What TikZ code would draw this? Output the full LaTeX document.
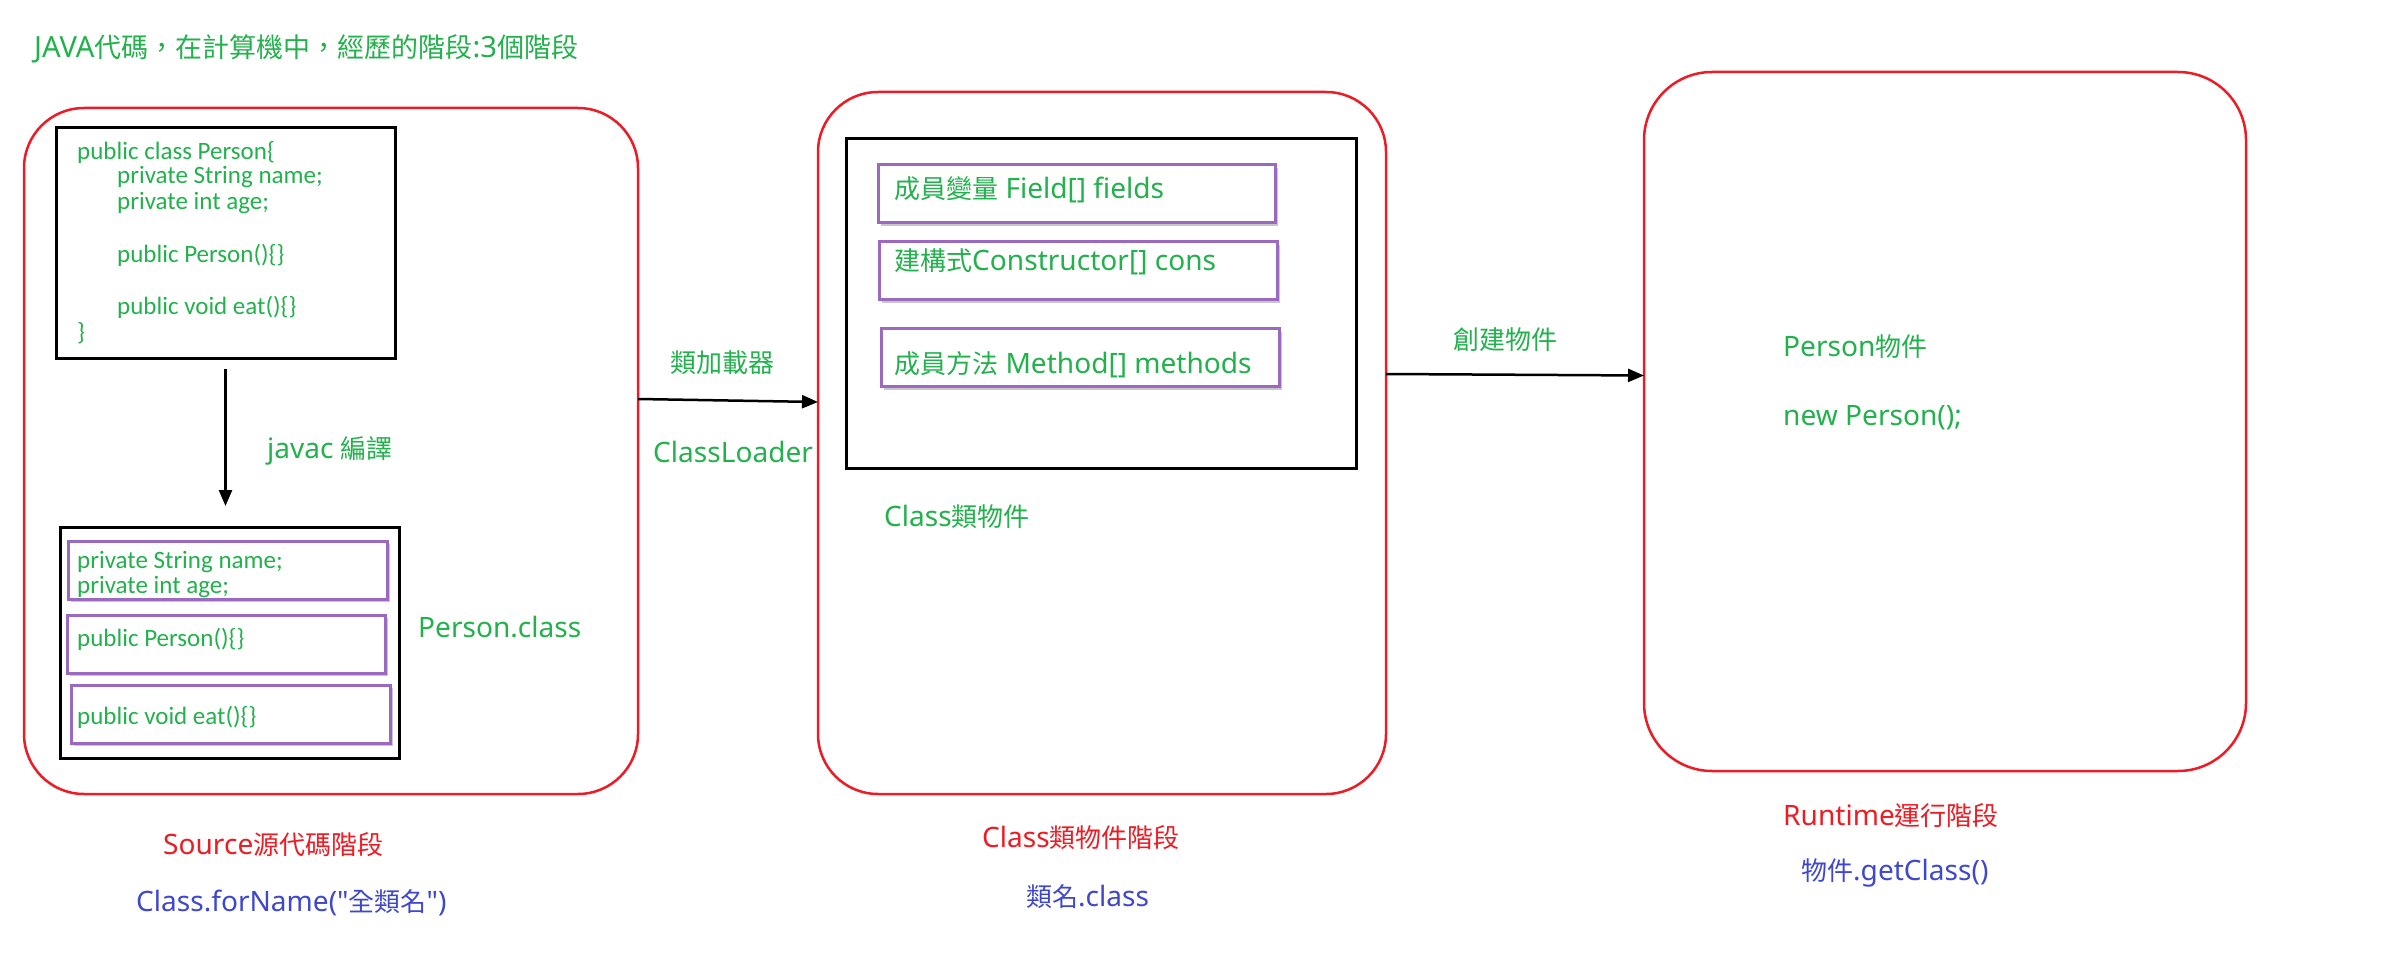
\documentclass[tikz,border=0pt]{standalone}
\usepackage{fontspec}
\setmainfont{Noto Sans}[Scale=1.08]
\newfontfamily\plainf{Noto Sans}[Scale=1.08]
\newfontfamily\cjkf{Noto Sans CJK TC}
\newfontfamily\codef{Carlito}
\newcommand\zh[1]{{\cjkf #1}}
\newcommand\sq{{\plainf"}}
\newcommand\myfs[1]{\fontsize{#1}{#1}\selectfont}
\usetikzlibrary{arrows.meta,shadows}
\definecolor{jgreen}{RGB}{34,177,76}
\definecolor{jred}{RGB}{237,28,36}
\definecolor{jblue}{RGB}{63,72,204}
\definecolor{jpurple}{RGB}{155,106,192}
\tikzset{
  stage/.style={draw=jred, line width=2.5pt, rounded corners=60pt, inner sep=0pt, outer sep=0pt},
  blackbox/.style={draw=black, line width=3pt, inner sep=0pt, outer sep=0pt},
  pbox/.style={draw=jpurple, line width=3pt, fill=white, inner sep=0pt, outer sep=0pt,
    drop shadow={shadow xshift=3pt, shadow yshift=-3pt, fill=black!22, opacity=1}},
  arr/.style={line width=2.5pt, -{Triangle[length=16pt,width=13pt]}},
  lbl/.style={text=jgreen, font=\myfs{26}, inner sep=0pt, anchor=west},
  code/.style={text=jgreen, font=\codef\myfs{25}, inner sep=0pt, anchor=west},
  redlbl/.style={lbl, text=jred},
  bluelbl/.style={lbl, text=jblue},
}
\begin{document}
\begin{tikzpicture}[x=1pt,y=-1pt]
\useasboundingbox (0,0) rectangle (2393,965);

% title
\node[lbl, font=\myfs{27}] (title) at (34,49) {JAVA\zh{代碼，在計算機中，經歷的階段}:3\zh{個階段}};

% stage boxes
\node[stage, minimum width=614pt, minimum height=686pt] (src) at (331,451) {};
\node[stage, minimum width=568pt, minimum height=702pt] (cobj) at (1102,443) {};
\node[stage, rounded corners=68pt, minimum width=602pt, minimum height=699pt] (rt) at (1945,421.5) {};

% source code box
\node[blackbox, minimum width=339pt, minimum height=231pt] (code) at (225.5,243.5) {};
\node[code] (c1) at (77,152) {public class Person\{};
\node[code] (c2) at (117,177) {private String name;};
\node[code] (c3) at (117,203) {private int age;};
\node[code] (c4) at (117,255) {public Person()\{\}};
\node[code] (c5) at (117,307) {public void eat()\{\}};
\node[code] (c6) at (77,333) {\}};

% class file box
\node[blackbox, minimum width=339pt, minimum height=231pt] (cfile) at (229.5,642.5) {};
\node[pbox, minimum width=319pt, minimum height=58pt] (pa) at (227.5,570) {};
\node[pbox, minimum width=318pt, minimum height=58pt] (pb) at (226,644) {};
\node[pbox, minimum width=319pt, minimum height=58pt] (pc) at (230.5,714) {};
\node[code] (f1) at (77,562) {private String name;};
\node[code] (f2) at (77,587) {private int age;};
\node[code] (f3) at (77,639) {public Person()\{\}};
\node[code] (f4) at (77,717) {public void eat()\{\}};

\node[lbl] (javac) at (267,451) {javac \zh{編譯}};
\node[lbl] (pclass) at (418,627) {Person.class};

% class object box
\node[blackbox, minimum width=510pt, minimum height=329pt] (inner) at (1101,303.5) {};
\node[pbox, minimum width=397pt, minimum height=58pt] (m1) at (1076.5,194) {};
\node[pbox, minimum width=398pt, minimum height=58pt] (m2) at (1078,271) {};
\node[pbox, minimum width=398pt, minimum height=58pt] (m3) at (1080,358) {};
\node[lbl] (t1) at (894,190) {\zh{成員變量} Field[] fields};
\node[lbl] (t2) at (894,262) {\zh{建構式}Constructor[] cons};
\node[lbl] (t3) at (894,365) {\zh{成員方法} Method[] methods};
\node[lbl] (cobjlbl) at (884,517) {Class\zh{類物件}};

% loader labels
\node[lbl] (loadzh) at (670,363) {\zh{類加載器}};
\node[lbl] (loaden) at (653,452) {ClassLoader};

% runtime
\node[lbl] (create) at (1453,340) {\zh{創建物件}};
\node[lbl] (pobj) at (1783,347) {Person\zh{物件}};
\node[lbl] (newp) at (1783,418) {new Person();};

% bottom labels
\node[redlbl] (s1) at (163,845) {Source\zh{源代碼階段}};
\node[bluelbl] (s2) at (136,903) {Class.forName(\sq\zh{全類名}\sq)};
\node[redlbl] (s3) at (982,838) {Class\zh{類物件階段}};
\node[bluelbl] (s4) at (1026,897) {\zh{類名}.class};
\node[redlbl] (s5) at (1783,816) {Runtime\zh{運行階段}};
\node[bluelbl] (s6) at (1801,873) {\zh{物件}.getClass()};

% arrows
\draw[arr] ([yshift=-10pt]code.south) -- ([yshift=21pt]code.south |- cfile.north);
\draw[arr] ([yshift=52pt]src.east) -- ([yshift=41pt]cobj.west);
\draw[arr] ([yshift=69pt]cobj.east) -- ([yshift=46pt]rt.west);
\end{tikzpicture}
\end{document}
